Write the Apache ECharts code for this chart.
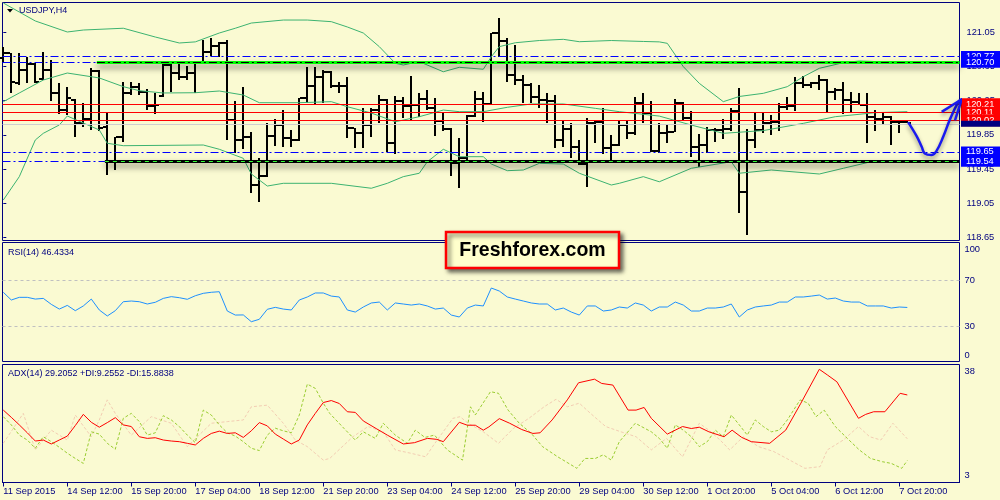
<!DOCTYPE html>
<html><head><meta charset="utf-8">
<script src="https://cdn.jsdelivr.net/npm/echarts@6/dist/echarts.min.js"></script>
<style>html,body{margin:0;padding:0;background:#fafad2;}#c{width:1000px;height:500px;}</style>
</head><body><div id="c"></div>
<script>
// ---------- data ----------
const tickLabels = ['11 Sep 2015','14 Sep 12:00','15 Sep 20:00','17 Sep 04:00','18 Sep 12:00','21 Sep 20:00','23 Sep 04:00','24 Sep 12:00','25 Sep 20:00','29 Sep 04:00','30 Sep 12:00','1 Oct 20:00','5 Oct 04:00','6 Oct 12:00','7 Oct 20:00'];
const opens = [120.75,120.805,120.461,120.61,120.676,120.50,120.61,120.336,120.141,120.258,119.99,120.031,120.602,119.945,119.535,119.82,120.344,120.407,120.356,120.188,120.30,120.668,120.571,120.532,120.579,120.688,120.825,120.891,120.923,120.023,119.789,119.828,119.261,119.366,119.836,119.965,119.808,119.789,120.277,120.422,120.532,120.59,120.423,120.423,119.926,119.867,119.965,120.141,120.258,119.75,120.251,120.188,120.20,120.266,120.161,120.016,119.92,119.523,119.574,120.071,120.266,120.211,121.04,120.954,120.552,120.493,120.434,120.29,120.258,120.251,119.789,119.914,119.711,119.508,119.985,120.00,119.692,119.731,119.965,119.867,120.219,120.102,119.66,119.867,119.887,120.227,120.043,119.711,119.73,119.906,119.906,119.914,120.133,119.183,119.789,119.906,119.992,120.004,120.18,120.188,120.454,120.434,120.462,120.493,120.356,120.376,120.258,120.239,120.20,120.055,120.031,120.055,120.004,120.004];
const highs = [120.884,120.805,120.805,120.758,120.688,120.825,120.727,120.453,120.407,120.266,120.219,120.629,120.61,120.102,119.828,120.473,120.473,120.453,120.383,120.336,120.688,120.708,120.688,120.657,120.696,120.962,120.981,120.942,120.962,120.246,120.407,119.887,119.574,119.984,120.031,120.141,119.906,120.277,120.649,120.649,120.61,120.60,120.473,120.532,119.926,120.161,120.161,120.317,120.266,120.305,120.297,120.54,120.337,120.376,120.278,120.122,119.93,119.809,120.082,120.368,120.356,121.04,121.216,120.982,120.903,120.552,120.462,120.434,120.337,120.317,120.024,119.985,119.789,120.043,120.024,120.161,119.848,120.024,120.024,120.29,120.337,120.25,119.99,119.965,120.266,120.239,120.133,119.859,119.938,119.926,120.031,120.16,120.395,119.914,120.121,120.101,120.082,120.227,120.297,120.524,120.54,120.473,120.551,120.501,120.395,120.473,120.356,120.344,120.336,120.141,120.121,120.071,120.024,120.024];
const lows = [120.708,120.344,120.434,120.453,120.453,120.49,120.25,120.09,120.082,119.828,119.937,119.906,119.898,119.378,119.437,119.769,120.317,120.317,120.141,120.094,120.29,120.352,120.493,120.493,120.336,120.688,120.774,120.766,119.789,119.64,119.679,119.171,119.058,119.359,119.718,119.711,119.711,119.781,120.219,120.211,120.219,120.40,120.337,119.817,119.692,119.692,119.828,119.985,119.652,119.625,120.043,120.024,120.063,120.141,119.836,119.899,119.367,119.222,119.535,120.063,120.004,120.211,120.767,120.473,120.434,120.227,120.219,120.161,119.985,119.692,119.711,119.574,119.496,119.242,119.75,119.625,119.535,119.719,119.80,119.848,119.985,119.65,119.64,119.758,119.88,120.024,119.594,119.476,119.64,119.77,119.797,119.899,118.937,118.675,119.691,119.867,119.848,119.899,120.141,120.133,120.395,120.395,120.376,120.11,120.258,120.094,120.121,120.20,119.758,119.899,119.965,119.73,119.875,119.985];
const closes = [120.805,120.465,120.61,120.676,120.465,120.61,120.336,120.141,120.277,119.984,120.031,120.602,119.926,119.543,119.82,120.344,120.407,120.356,120.188,120.199,120.668,120.571,120.532,120.579,120.688,120.825,120.891,120.923,120.023,119.789,119.828,119.261,119.366,119.836,119.965,119.808,119.789,120.277,120.422,120.532,120.59,120.423,120.423,119.926,119.867,119.965,120.141,120.258,119.75,120.251,120.188,120.20,120.266,120.161,120.016,119.92,119.523,119.574,120.071,120.266,120.211,121.04,120.954,120.552,120.493,120.434,120.29,120.258,120.251,119.789,119.914,119.711,119.508,119.985,120.00,119.692,119.731,119.965,119.867,120.219,120.102,119.66,119.867,119.887,120.227,120.043,119.711,119.73,119.906,119.906,119.914,120.133,119.183,119.789,119.906,119.992,120.004,120.18,120.188,120.454,120.434,120.462,120.493,120.356,120.376,120.258,120.239,120.20,120.055,120.031,120.055,120.004,120.004,119.992];

const bbUpper = [[0,121.396],[2,121.29],[4,121.185],[8,121.056],[10,121.079],[15,121.10],[19,120.997],[22,120.927],[24,120.94],[27,121.044],[29,121.10],[31,121.161],[35,121.196],[38,121.196],[41,121.177],[43,121.115],[45,121.044],[47,120.884],[49,120.689],[50,120.669],[52,120.708],[55,120.59],[57,120.642],[60,120.619],[61,120.766],[62,120.884],[64,120.93],[67,120.956],[70,120.97],[72,120.942],[76,120.956],[80,120.945],[82,120.94],[83,120.923],[85,120.65],[87,120.454],[90,120.239],[92,120.30],[95,120.337],[98,120.415],[100,120.532],[102,120.63],[105,120.696],[107,120.716],[113,120.696]];
const bbMiddle = [[0,120.239],[2,120.341],[5,120.493],[8,120.575],[12,120.517],[15,120.415],[17,120.368],[20,120.341],[24,120.344],[27,120.364],[30,120.317],[32,120.227],[37,120.227],[41,120.239],[43,120.18],[46,120.106],[49,120.004],[52,120.063],[55,120.141],[57,120.122],[60,120.122],[63,120.173],[66,120.212],[70,120.212],[74,120.161],[77,120.122],[82,120.07],[86,119.965],[90,119.868],[95,119.90],[100,119.985],[104,120.063],[109,120.11],[113,120.122]];
const bbLower = [[0,119.086],[2,119.36],[4,119.79],[5,119.868],[7,119.966],[8,120.071],[9,120.03],[12,119.907],[13,119.751],[15,119.723],[25,119.731],[27,119.681],[30,119.575],[31,119.391],[33,119.25],[35,119.282],[41,119.282],[46,119.224],[48,119.282],[50,119.36],[52,119.40],[53,119.535],[55,119.681],[57,119.594],[60,119.594],[61,119.508],[63,119.43],[65,119.438],[67,119.516],[70,119.508],[72,119.40],[76,119.262],[77,119.282],[80,119.36],[82,119.30],[86,119.458],[91,119.535],[92,119.40],[96,119.438],[102,119.391],[105,119.458],[109,119.547],[113,119.547]];

const blueLevels = [120.77, 120.70, 119.65, 119.54];
const redLevels = [120.21, 120.11, 120.02];
const bidLevel = 119.985;
const greenZone = {price: 120.70, fromBar: 11.7};
const blackZone = {price: 119.54, fromBar: 12.7};
const priceTicks = [118.65, 119.05, 119.45, 119.85, 120.25, 120.65, 121.05];

const rsiValues = [59.6,52.9,55.2,55.2,53.7,54.3,49.1,45.0,48.2,43.6,47.7,53.7,44.2,39.0,43.6,51.4,52.0,51.4,49.4,50.9,54.3,55.8,54.9,53.5,56.6,58.7,59.6,60.1,43.3,39.8,39.9,34.0,36.1,44.8,46.5,45.0,44.2,52.9,
 55.5,59.0,59.0,56.3,55.5,44.2,42.4,46.8,50.3,51.1,44.2,50.3,49.4,48.5,49.4,47.7,45.0,45.9,39.8,38.1,45.9,48.5,47.7,63.3,60.7,55.5,53.7,52.0,50.3,49.4,49.4,44.2,45.9,42.4,39.8,47.7,47.7,43.3,44.2,46.8,45.9,50.3,48.5,43.3,46.8,46.8,51.1,48.5,43.3,43.3,45.9,45.9,46.8,49.4,38.1,44.2,46.8,47.7,48.5,51.1,51.1,55.5,55.5,56.3,57.2,53.7,54.6,52.0,51.1,51.1,47.7,47.7,47.7,45.9,46.8,46.4];
const rsiLevels = [30, 70];

const adxLine = [[0,24.6],[1,22.4],[2,20.1],[3,17.7],[4,15.2],[5,15.5],[6,14.3],[7,15.5],[8,16.7],[9,19.9],[10,23.3],[11,20.9],[12,19.4],[13,20.8],[14,22.3],[15,20.1],[16,19.6],[17,16.5],[18,16.0],[19,16.2],[20,15.5],[21,15.2],[22,15.0],[23,14.5],[24,14.0],[25,16.0],[26,17.5],[27,18.2],[28,17.5],[29,17.7],[30,16.3],[31,18.3],[32,20.8],[33,19.8],[34,17.3],[35,15.8],[36,14.3],[37,15.5],[38,20.1],[39,23.6],[40,26.9],
 [41,27.5],[42,26.6],[43,24.1],[44,23.9],[45,21.3],[46.6,19.0],[48,17.0],[50,14.3],[51.4,14.7],[53,16.0],[54.2,15.7],[55,15.0],[57,20.9],[58,20.0],[59,20.0],[60,18.5],[60.7,19.5],[62,22.0],[63.3,20.6],[64.8,18.7],[66.2,17.5],[67.1,17.7],[68.6,21.6],[70.5,27.7],[71.9,32.9],[73.9,34.0],[74.8,32.7],[76.2,32.2],[78.1,24.6],[79.1,24.6],[80.1,25.4],[81,22.1],[83,17.3],[84.9,19.6],[86,19.0],[87,19.4],[88.2,18.0],[90.1,16.5],[91.1,18.5],[92.3,16.3],[93.5,15.0],[95.8,14.5],[97.8,18.5],[99.7,26.7],[102,37.0],[103,35.3],[104.2,33.2],[106.9,22.1],[107.8,23.3],[108.8,24.1],[110.2,24.1],[112.1,29.7],[113,29.2]];
const plusDI = [[0,22.6],[1,20.1],[2,17.0],[3,15.5],[4,13.0],[5,16.5],[6,15.0],[7,13.3],[8,11.5],[9,9.9],[10,8.4],[11,18.0],[12,17.3],[13,14.5],[14,12.7],[15,22.1],[16,23.6],[17,21.1],[18,17.0],[19,17.7],[20,22.9],[21,21.6],[22,19.6],[23,17.0],[24,14.7],[25,24.6],[26,23.1],[27,20.1],[28,17.7],[29,16.7],[30,15.0],[31,13.0],[32,12.3],[33,17.0],[34,19.1],[35,18.3],[36,17.7],[37,23.1],[38,32.5],[39,31.2],[40,26.7],
 [40.8,23.6],[42.6,19.0],[44,15.5],[45,18.0],[46.5,16.0],[47.5,20.6],[49,17.0],[50.5,14.5],[51.5,18.5],[52.7,16.3],[53.9,17.0],[55.5,12.5],[57.4,9.4],[58.4,25.6],[59,23.1],[60.9,30.2],[61.9,29.7],[63.1,24.6],[64.5,20.6],[66,17.5],[67.4,13.5],[69.3,10.4],[71.7,6.9],[72.7,9.9],[74,9.9],[75,11.0],[76,9.4],[77,15.0],[79,20.6],[81,18.0],[82,16.0],[83,13.0],[84,20.1],[85,18.5],[86,16.5],[87,13.5],[88,15.0],[89,18.5],[90,16.5],[91,23.1],[92,20.1],[93,17.0],[94,21.6],[95,19.6],[96,18.0],[97,18.5],[98,21.6],[99.6,27.7],[100.6,26.7],[101.6,22.6],[102.6,24.6],[104,19.6],[105.5,16.0],[107,12.5],[108.4,9.9],[109.9,8.9],[111,8.4],[112.3,6.9],[113,9.26]];
const minusDI = [[0,14.5],[2.5,23.6],[4,12.5],[6,18.5],[8,15.5],[9,23.1],[11,16.5],[12,21.6],[13,27.7],[14,23.6],[16,17.0],[18.5,22.6],[21,20.6],[23,13.5],[26,20.6],[28,21.1],[30,21.6],[31,25.6],[33,26.1],[35,20.6],[36.5,15.5],[38,13.5],[40,9.4],
 [40.8,9.9],[43.7,16.5],[45.6,19.6],[47.5,18.0],[49,12.5],[50.9,11.5],[52.8,10.4],[53.8,14.0],[56.2,22.1],[57.1,22.6],[58.1,20.6],[60,18.0],[61.9,14.5],[63.8,19.1],[65.7,22.1],[67.6,25.6],[69.1,27.9],[70.5,25.6],[72,26.7],[73.4,23.6],[75.3,19.6],[77.2,18.0],[79.1,16.5],[81,12.5],[82.9,16.0],[84.9,10.4],[87,20.6],[88.2,18.5],[89.6,15.5],[90.8,12.5],[92.5,16.5],[94.4,13.5],[96.3,12.0],[98.3,9.4],[100.2,6.9],[102.1,7.4],[103,12.5],[105,15.5],[106.9,19.6],[108.3,16.5],[109.7,15.5],[111.2,20.6],[113,15.88]];

const arrowPath = [[113.1,120.0],[114.2,119.83],[114.8,119.71],[115.2,119.63],[116.0,119.614],[116.6,119.653],[117.5,119.83],[118.3,120.024],[119.4,120.24],[119.8,120.267]];
const arrowHead = [[117.3,120.12],[119.8,120.267],[118.96,120.02]];

// ---------- chart ----------
const NAVY = '#000080', BLUE = '#0000ff', RED = '#ff0000', BB = '#3cb371';
const FONT = '"Liberation Sans", Arial, sans-serif';
const X_MIN = -0.1, X_MAX = 119.525;
const DASHDOT = [8, 3, 2, 3];
const labelTicks = tickLabels.map((_, k) => k * 8);

const chart = echarts.init(document.getElementById('c'), null, {renderer: 'canvas'});

function lvlLabel(bg, txt, padTop) {
  return {show: true, position: 'end', distance: 1.5, formatter: txt, color: '#fff',
    backgroundColor: bg, padding: [padTop, 12, 1, 5], fontSize: 9.3, lineHeight: 9, fontFamily: FONT};
}
const shadow = {shadowBlur: 6, shadowOffsetY: 4, shadowColor: 'rgba(0,0,0,0.55)'};

const levelItems = [];
levelItems.push({yAxis: blueLevels[0], lineStyle: {color: BLUE, width: 1, type: DASHDOT}, label: lvlLabel(BLUE, blueLevels[0].toFixed(2), 1)});
levelItems.push({yAxis: blueLevels[1], lineStyle: {color: BLUE, width: 1, type: DASHDOT}, label: lvlLabel(BLUE, blueLevels[1].toFixed(2), 1)});
redLevels.forEach(v => levelItems.push({yAxis: v, lineStyle: {color: RED, width: 1, type: 'solid'}, label: lvlLabel(RED, v.toFixed(2), 2)}));
levelItems.push({yAxis: bidLevel, lineStyle: {color: '#cfcfcf', width: 1, type: 'solid'},
  label: {show: true, position: 'end', distance: 1.5, formatter: ' ', backgroundColor: NAVY, padding: [0, 40, 0, 0], fontSize: 4, lineHeight: 6}});
levelItems.push({yAxis: blueLevels[2], lineStyle: {color: BLUE, width: 1, type: DASHDOT}, label: lvlLabel(BLUE, blueLevels[2].toFixed(2), 1)});
levelItems.push({yAxis: blueLevels[3], lineStyle: {color: BLUE, width: 1, type: DASHDOT}, label: lvlLabel(BLUE, blueLevels[3].toFixed(2), 1)});
levelItems.push([{coord: [greenZone.fromBar, greenZone.price], lineStyle: Object.assign({color: '#00ff00', width: 3, type: 'solid'}, shadow), label: {show: false}}, {coord: [X_MAX, greenZone.price]}]);
levelItems.push([{coord: [greenZone.fromBar, greenZone.price], lineStyle: {color: '#000', width: 1, type: DASHDOT}, label: {show: false}}, {coord: [X_MAX, greenZone.price]}]);
levelItems.push([{coord: [blackZone.fromBar, blackZone.price], lineStyle: Object.assign({color: '#000', width: 3, type: 'solid'}, shadow), label: {show: false}}, {coord: [X_MAX, blackZone.price]}]);
levelItems.push([{coord: [blackZone.fromBar, blackZone.price], lineStyle: {color: '#33ff33', width: 1, type: [4, 4]}, label: {show: false}}, {coord: [X_MAX, blackZone.price]}]);

const ohlc = opens.map((o, i) => [i, o, highs[i], lows[i], closes[i]]);

function hiddenX(idx) {
  return {type: 'value', gridIndex: idx, min: X_MIN, max: X_MAX, show: false};
}
const gridBase = {left: 2.5, right: 40.5, show: true, borderColor: NAVY, borderWidth: 1, backgroundColor: 'transparent'};

const option = {
  animation: false,
  backgroundColor: '#fafad2',
  grid: [
    Object.assign({top: 2.5, height: 238}, gridBase),
    Object.assign({top: 242.5, height: 119}, gridBase),
    Object.assign({top: 364.5, height: 118}, gridBase)
  ],
  xAxis: [hiddenX(0), hiddenX(1), {
    type: 'value', gridIndex: 2, min: X_MIN, max: X_MAX,
    axisLine: {show: true, lineStyle: {color: NAVY}},
    splitLine: {show: false},
    axisTick: {show: true, length: 4, lineStyle: {color: NAVY}, customValues: labelTicks},
    axisLabel: {customValues: labelTicks, formatter: v => tickLabels[Math.round(v / 8)] || '',
      align: 'left', margin: 4, color: NAVY, fontSize: 9.3, fontFamily: FONT}
  }],
  yAxis: [
    {type: 'value', gridIndex: 0, position: 'right', min: 118.6115, max: 121.4017,
      axisLine: {show: false}, splitLine: {show: false},
      axisTick: {show: true, length: 3, lineStyle: {color: NAVY}, customValues: priceTicks},
      axisLabel: {customValues: priceTicks, formatter: v => v.toFixed(2), color: NAVY, fontSize: 9.3, fontFamily: FONT, margin: 7}},
    {type: 'value', gridIndex: 1, position: 'right', min: -0.6, max: 102.9,
      axisLine: {show: false}, splitLine: {show: false},
      axisTick: {show: false},
      axisLabel: {customValues: [4.5, 30, 70, 96.5], formatter: v => v < 10 ? '0' : (v > 90 ? '100' : String(v)),
        color: NAVY, fontSize: 9.3, fontFamily: FONT, margin: 5}},
    {type: 'value', gridIndex: 2, position: 'right', min: 2.59, max: 38.46,
      axisLine: {show: false}, splitLine: {show: false},
      axisTick: {show: false},
      axisLabel: {customValues: [36.3, 4.6], formatter: v => v > 20 ? '38' : '3',
        color: NAVY, fontSize: 9.3, fontFamily: FONT, margin: 5}}
  ],
  series: [
    {type: 'line', name: 'levels', xAxisIndex: 0, yAxisIndex: 0, data: [[X_MIN, null]], symbol: 'none', silent: true,
      markLine: {silent: true, symbol: ['none', 'none'], animation: false, data: levelItems}},
    {type: 'line', name: 'bbU', xAxisIndex: 0, yAxisIndex: 0, data: bbUpper, symbol: 'none', lineStyle: {color: BB, width: 1}},
    {type: 'line', name: 'bbM', xAxisIndex: 0, yAxisIndex: 0, data: bbMiddle, symbol: 'none', lineStyle: {color: BB, width: 1}},
    {type: 'line', name: 'bbL', xAxisIndex: 0, yAxisIndex: 0, data: bbLower, symbol: 'none', lineStyle: {color: BB, width: 1}},
    {type: 'custom', name: 'bars', xAxisIndex: 0, yAxisIndex: 0, data: ohlc,
      encode: {x: 0, y: [1, 2, 3, 4]},
      renderItem: function (params, api) {
        const i = api.value(0);
        const o = api.coord([i, api.value(1)]);
        const h = api.coord([i, api.value(2)]);
        const l = api.coord([i, api.value(3)]);
        const c = api.coord([i, api.value(4)]);
        const x = Math.round(o[0]);
        const yH = Math.round(h[1]), yL = Math.round(l[1]), yO = Math.round(o[1]), yC = Math.round(c[1]);
        return {type: 'group', children: [
          {type: 'rect', shape: {x: x - 1, y: yH, width: 2, height: Math.max(1, yL - yH)}, style: {fill: '#000'}},
          {type: 'rect', shape: {x: x - 4, y: yO - 1, width: 3, height: 2}, style: {fill: '#000'}},
          {type: 'rect', shape: {x: x + 1, y: yC - 1, width: 3, height: 2}, style: {fill: '#000'}}
        ]};
      }},
    {type: 'line', name: 'arrow', xAxisIndex: 0, yAxisIndex: 0, data: arrowPath, smooth: 0.4, symbol: 'none', clip: false, z: 10,
      lineStyle: {color: '#1a1aee', width: 2.5, shadowBlur: 4, shadowOffsetY: 3, shadowColor: 'rgba(0,0,0,0.4)'}},
    {type: 'line', name: 'arrowHead', xAxisIndex: 0, yAxisIndex: 0, data: arrowHead, symbol: 'none', clip: false, z: 10,
      lineStyle: {color: '#1a1aee', width: 2.5, join: 'round', shadowBlur: 4, shadowOffsetY: 3, shadowColor: 'rgba(0,0,0,0.4)'}},
    {type: 'line', name: 'RSI', xAxisIndex: 1, yAxisIndex: 1, data: rsiValues.map((v, i) => [i, v]), symbol: 'none',
      lineStyle: {color: '#1e90ff', width: 1},
      markLine: {silent: true, symbol: ['none', 'none'], label: {show: false},
        lineStyle: {color: '#c0c0c0', width: 1, type: [3, 3]}, data: rsiLevels.map(v => ({yAxis: v}))}},
    {type: 'line', name: '-DI', xAxisIndex: 2, yAxisIndex: 2, data: minusDI, symbol: 'none', lineStyle: {color: '#f3cdb3', width: 1, type: [3, 2]}},
    {type: 'line', name: '+DI', xAxisIndex: 2, yAxisIndex: 2, data: plusDI, symbol: 'none', lineStyle: {color: '#9acd32', width: 1, type: [3, 2]}},
    {type: 'line', name: 'ADX', xAxisIndex: 2, yAxisIndex: 2, data: adxLine, symbol: 'none', lineStyle: {color: '#ff0000', width: 1}}
  ],
  graphic: [
    {type: 'polygon', shape: {points: [[7, 9], [13, 9], [10, 12.5]]}, style: {fill: '#000'}, z: 20},
    {type: 'text', x: 19, y: 10.5, style: {text: 'USDJPY,H4', fill: NAVY, font: '9px ' + FONT, verticalAlign: 'middle'}, z: 20},
    {type: 'text', x: 8, y: 253, style: {text: 'RSI(14) 46.4334', fill: NAVY, font: '9px ' + FONT, verticalAlign: 'middle'}, z: 20},
    {type: 'text', x: 8, y: 374, style: {text: 'ADX(14) 29.2052 +DI:9.2552 -DI:15.8838', fill: NAVY, font: '9px ' + FONT, verticalAlign: 'middle'}, z: 20},
    {type: 'group', z: 30, children: [
      {type: 'rect', shape: {x: 446, y: 232, width: 173, height: 36},
        style: {fill: '#ffffcc', stroke: '#ff0000', lineWidth: 2.5, shadowBlur: 4, shadowOffsetX: 3, shadowOffsetY: 3, shadowColor: 'rgba(0,0,0,0.55)'}},
      {type: 'text', x: 532.5, y: 250.5, style: {text: 'Freshforex.com', fill: '#000', font: 'bold 19.5px ' + FONT, align: 'center', verticalAlign: 'middle'}}
    ]}
  ]
};
chart.setOption(option);
</script></body></html>
